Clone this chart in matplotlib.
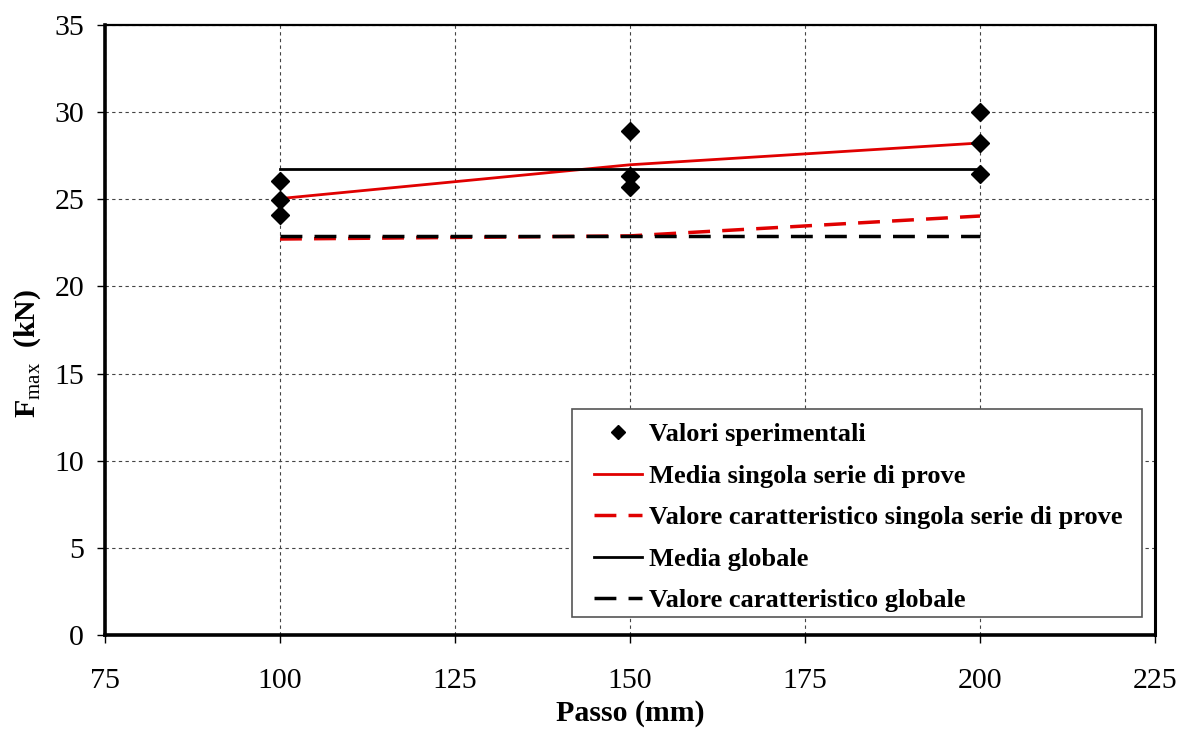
import numpy as np
import matplotlib.pyplot as plt
from matplotlib.patches import Rectangle

plt.rcParams['font.family'] = ['Liberation Serif', 'DejaVu Serif']
plt.rcParams['mathtext.fontset'] = 'custom'
plt.rcParams['mathtext.rm'] = 'Liberation Serif'
plt.rcParams['mathtext.bf'] = 'Liberation Serif:bold'

# Dati sperimentali
passo_punti = [100, 100, 100, 150, 150, 150, 200, 200, 200]
fmax_punti = [26.05, 24.96, 24.1, 28.92, 26.33, 25.7, 30.0, 28.23, 26.45]

passo = [100, 150, 200]
media_serie = [25.04, 26.98, 28.23]
caratt_serie = [22.72, 22.9, 24.04]
media_globale = [26.74, 26.74, 26.74]
caratt_globale = [22.9, 22.9, 22.9]

fig = plt.figure(figsize=(11.79, 7.30), dpi=100)
ax = fig.add_axes([105/1179, 1-635/730, 1050/1179, 610/730])

tratto = (6.3, 3.5)
ax.plot(passo_punti, fmax_punti, linestyle='none', marker='D', color='black',
        markersize=9.5, label='Valori sperimentali', zorder=5)
ax.plot(passo, media_serie, color='#e00000', lw=2, label='Media singola serie di prove')
ax.plot(passo, caratt_serie, color='#e00000', lw=2.5, dashes=tratto,
        label='Valore caratteristico singola serie di prove')
ax.plot(passo, media_globale, color='black', lw=2, label='Media globale')
ax.plot(passo, caratt_globale, color='black', lw=2.5, dashes=tratto,
        label='Valore caratteristico globale')

ax.set_xlim(75, 225)
ax.set_ylim(0, 35)
ax.set_xticks(np.arange(75, 226, 25))
ax.set_yticks(np.arange(0, 36, 5))
ax.grid(True, color='#444444', linestyle=(0, (3, 3)), lw=0.8)
ax.tick_params(labelsize=21.5, direction='out', length=6, width=1)
ax.tick_params(axis='x', pad=18)
ax.tick_params(axis='y', pad=9)

ax.spines['left'].set_linewidth(2.6)
ax.spines['bottom'].set_linewidth(2.6)
ax.spines['top'].set_linewidth(1.6)
ax.spines['right'].set_linewidth(2.2)

ax.set_xlabel('Passo (mm)', fontsize=21.5, fontweight='bold', labelpad=4)
ax.set_ylabel(r'F$_{\mathrm{max}}$  (kN)', fontsize=21.5, fontweight='bold')
ax.yaxis.set_label_coords(-0.059, 0.462)

# cornice della legenda (stile Excel)
ax.add_patch(Rectangle((0.4448, 0.0295), 0.5429, 0.341, transform=ax.transAxes,
                       facecolor='white', edgecolor='#555555', lw=1.2, zorder=6))

leg = ax.legend(loc='upper left', bbox_to_anchor=(0.4657, 0.3475), borderaxespad=0,
                prop={'weight': 'bold', 'size': 19}, frameon=False,
                handlelength=1.82, handletextpad=0.27,
                labelspacing=0.68, borderpad=0, markerscale=0.7)
leg.set_zorder(7)

fig.savefig('out.png', dpi=100)
